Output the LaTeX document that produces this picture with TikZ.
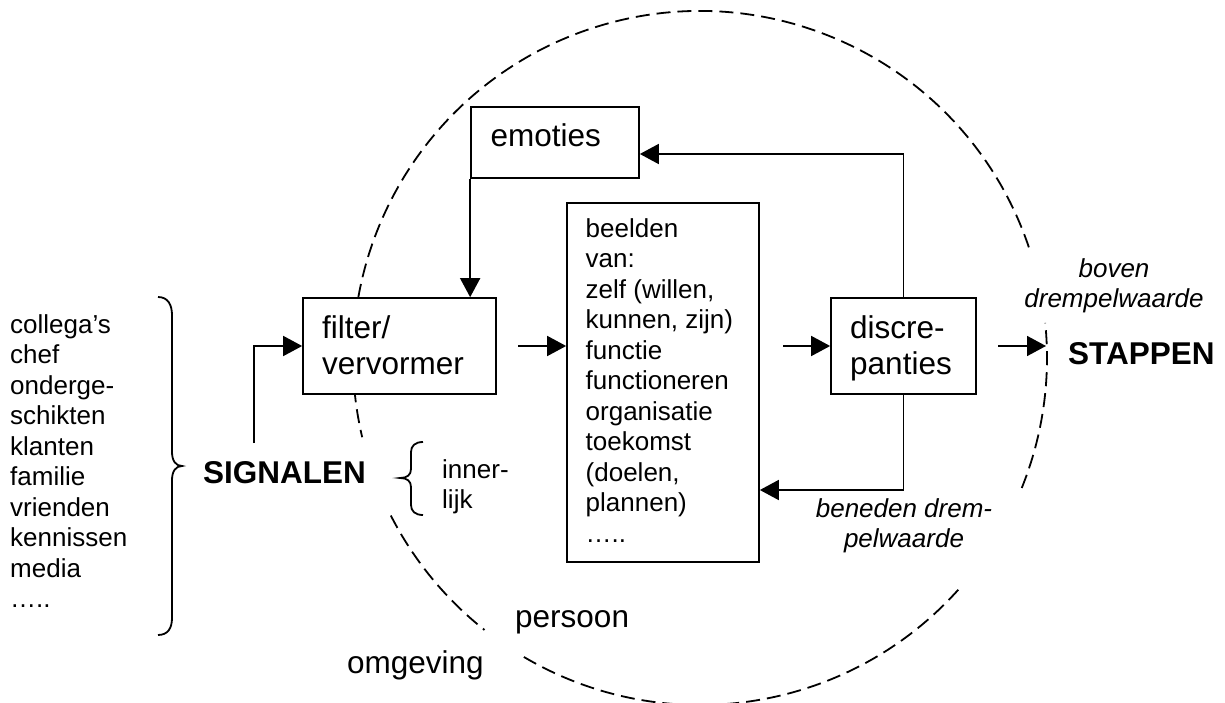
\documentclass[tikz,border=0pt]{standalone}
\usepackage{fontspec}
\setmainfont{Liberation Sans}
\usetikzlibrary{arrows.meta,calc}
\newcommand{\bigf}{\fontsize{31.5}{36.7}\selectfont}
\newcommand{\smallf}{\fontsize{26}{30.5}\selectfont}
\newcommand{\stackl}[1]{\begin{tabular}[t]{@{}l@{}}#1\end{tabular}}
\newcommand{\stackc}[1]{\begin{tabular}[t]{@{}c@{}}#1\end{tabular}}
\begin{document}
\begin{tikzpicture}[x=1pt,y=-1pt,
  box/.style={draw,line width=1.7pt,fill=white,inner sep=0pt},
  arr/.style={line width=1.7pt,-{Triangle[length=19pt,width=20pt]}},
  circ/.style={line width=1.8pt,dash pattern=on 14pt off 7pt},
  brace/.style={line width=1.8pt},
  small/.style={font=\smallf,inner sep=0pt},
  big/.style={font=\bigf,inner sep=0pt}]
\useasboundingbox (0,0) rectangle (1225,703);

% dashed circle (persoon / omgeving)
\draw[circ] (700,358) ++(18.6:347pt) arc[start angle=18.6,end angle=193.2,radius=347pt];
\draw[circ] (700,358) ++(207:347pt) arc[start angle=207,end angle=231.6,radius=347pt];
\draw[circ] (700,358) ++(239.5:347pt) arc[start angle=239.5,end angle=318.5,radius=347pt];
\draw[circ] (700,358) ++(338:347pt) arc[start angle=338,end angle=365.8,radius=347pt];

% boxes
\node[box,minimum width=168pt,minimum height=71pt] (emo) at (555,142.5) {};
\node[box,minimum width=193pt,minimum height=96pt] (fil) at (399.5,346) {};
\node[box,minimum width=192pt,minimum height=359pt] (bee) at (663,382.5) {};
\node[box,minimum width=145pt,minimum height=96pt] (dis) at (903.5,346) {};

% box texts
\node[big,anchor=base west] (emot) at (490.5,147) {emoties};
\node[big,anchor=base west] (filt) at (322,338) {\stackl{filter/\\vervormer}};
\node[small,anchor=base west] (beet) at (585.5,237) {\stackl{beelden\\van:\\zelf (willen,\\kunnen, zijn)\\functie\\functioneren\\organisatie\\toekomst\\(doelen,\\plannen)\\…..}};
\node[big,anchor=base west] (dist) at (850,338) {\stackl{discre-\\panties}};

% other texts
\node[small,anchor=base west] (list) at (10,333) {\stackl{collega’s\\chef\\onderge-\\schikten\\klanten\\familie\\vrienden\\kennissen\\media\\…..}};
\node[big,font=\bigf\bfseries,anchor=base west] (sig) at (203,483) {SIGNALEN};
\node[small,anchor=base west] (inn) at (442,478) {\stackl{inner-\\lijk}};
\node[small,font=\smallf\itshape,anchor=base] (boven) at (1114,277) {\stackc{boven\\drempelwaarde}};
\node[big,font=\bigf\bfseries,anchor=base west] (stap) at (1068,364) {STAPPEN};
\node[small,font=\smallf\itshape,anchor=base] (bene) at (904,517) {\stackc{beneden drem-\\pelwaarde}};
\node[big,anchor=base west] (pers) at (515,627) {persoon};
\node[big,anchor=base west] (omg) at (347,673) {omgeving};

% braces
\draw[brace] (158,297) .. controls (168,297) and (172,305) .. (172,315) -- (172,452)
  .. controls (172,461) and (176,466) .. (182,466)
  .. controls (176,466) and (172,471) .. (172,480) -- (172,618)
  .. controls (172,628) and (168,635) .. (158,635);
\draw[brace] (423,442) .. controls (415,442) and (411,446) .. (411,452) -- (411,469)
  .. controls (411,475) and (407,478) .. (400,478)
  .. controls (407,478) and (411,481) .. (411,487) -- (411,505)
  .. controls (411,511) and (415,515) .. (423,515);

% connectors
\coordinate (sg) at (254,443);
\coordinate (fb) at (518,346);
\coordinate (bd) at (783,346);
\coordinate (ds) at (998,346);
\coordinate (dsend) at (1046,346);
\coordinate (upy) at (0,154);
\coordinate (lowy) at (0,490);

\draw[arr] (sg) |- (fil.west);
\draw[arr] (emo.south west) -- (emo.south west |- fil.north);
\draw[arr] (dis.north) |- (emo.east |- upy);
\draw[arr] (dis.south) |- (bee.east |- lowy);
\draw[arr] (fb) -- (fb -| bee.west);
\draw[arr] (bd) -- (bd -| dis.west);
\draw[arr] (ds) -- (dsend);
\end{tikzpicture}
\end{document}
